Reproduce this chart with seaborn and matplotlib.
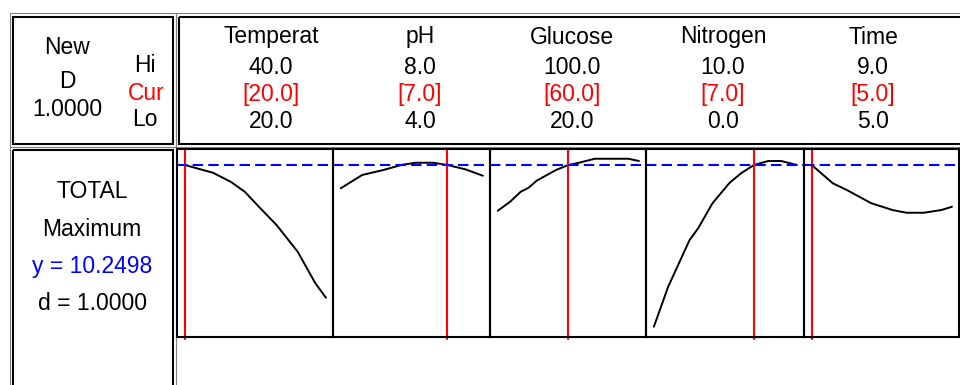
import matplotlib
matplotlib.use("Agg")
import matplotlib.pyplot as plt
from matplotlib.patches import Rectangle
import seaborn as sns

# factor settings shown in the header
factors = ["Temperat", "pH", "Glucose", "Nitrogen", "Time"]
hi_vals = [40.0, 8.0, 100.0, 10.0, 9.0]
cur_vals = [20.0, 7.0, 60.0, 7.0, 5.0]
lo_vals = [20.0, 4.0, 20.0, 0.0, 5.0]

y_opt = 10.2498
d_val = 1.0000

# response traces (factor value, predicted TOTAL)
temp_x = [20, 24, 26.5, 28.5, 30.5, 33, 36, 38.5, 40]
temp_y = [10.25, 9.94, 9.58, 9.18, 8.58, 7.85, 6.78, 5.52, 4.94]
ph_x = [4.0, 4.6, 5.2, 5.7, 6.1, 6.6, 7.0, 7.5, 8.0]
ph_y = [9.32, 9.85, 10.05, 10.25, 10.34, 10.34, 10.25, 10.08, 9.82]
glu_x = [20, 27, 33, 37.5, 42, 53, 60, 66, 75, 94, 100]
glu_y = [8.42, 8.78, 9.18, 9.34, 9.62, 10.05, 10.25, 10.34, 10.50, 10.50, 10.41]
nit_x = [0, 1.0, 2.5, 3.1, 4.1, 5.3, 6.1, 7.0, 8.0, 8.9, 10]
nit_y = [3.78, 5.38, 7.25, 7.72, 8.72, 9.54, 9.92, 10.25, 10.41, 10.41, 10.25]
time_x = [5.0, 5.6, 6.0, 6.7, 7.3, 7.7, 8.2, 8.7, 9.0]
time_y = [10.25, 9.52, 9.25, 8.72, 8.45, 8.34, 8.34, 8.45, 8.58]

traces = [(temp_x, temp_y), (ph_x, ph_y), (glu_x, glu_y), (nit_x, nit_y), (time_x, time_y)]

sns.set_style("white")
plt.rcParams["font.family"] = ["Liberation Sans", "DejaVu Sans"]
plt.rcParams["text.color"] = "black"

W, H = 960, 385
fig = plt.figure(figsize=(W / 100, H / 100), dpi=100)

# background layer in pixel units for the boxes and labels
bg = fig.add_axes([0, 0, 1, 1])
bg.set_xlim(0, W)
bg.set_ylim(H, 0)
bg.axis("off")


def box(x0, y0, x1, y1, color, lw):
    bg.add_patch(Rectangle((x0, y0), x1 - x0, y1 - y0, fill=False,
                           edgecolor=color, lw=lw, clip_on=False))


box(10, 13, 176, 147, "#808080", 0.8)
box(13, 17, 173, 144, "black", 1.5)
box(176, 13, 975, 147, "#808080", 0.8)
box(179, 17, 975, 144, "black", 1.5)
box(10, 147, 176, 400, "#808080", 0.8)
box(13, 150, 173, 400, "black", 1.5)

fs = 16.5
bg.text(67, 47, "New", ha="center", va="center", fontsize=fs)
bg.text(67, 81, "D", ha="center", va="center", fontsize=fs)
bg.text(67, 109, f"{d_val:.4f}", ha="center", va="center", fontsize=fs)
bg.text(145, 66, "Hi", ha="center", va="center", fontsize=fs)
bg.text(146, 93, "Cur", ha="center", va="center", fontsize=fs, color="red")
bg.text(145, 120, "Lo", ha="center", va="center", fontsize=fs)

bg.text(92, 192, "TOTAL", ha="center", va="center", fontsize=fs)
bg.text(92, 230, "Maximum", ha="center", va="center", fontsize=fs)
bg.text(92, 267, f"y = {y_opt:.4f}", ha="center", va="center", fontsize=fs, color="blue")
bg.text(92, 303, f"d = {d_val:.4f}", ha="center", va="center", fontsize=fs)

head_x = [271, 420, 572, 723, 873]
for hx, name, hi, cur, lo in zip(head_x, factors, hi_vals, cur_vals, lo_vals):
    bg.text(hx, 37, name, ha="center", va="center", fontsize=fs)
    bg.text(hx, 67, f"{hi:.1f}", ha="center", va="center", fontsize=fs)
    bg.text(hx, 95, f"[{cur:.1f}]", ha="center", va="center", fontsize=fs, color="red")
    bg.text(hx, 122, f"{lo:.1f}", ha="center", va="center", fontsize=fs)

# the five trace panels
edges = [177, 333, 490, 646, 804, 959]
top, bottom = 149, 337
ylim = (y_opt - 172 * 0.04, y_opt + 16 * 0.04)

for i, (xs, ys) in enumerate(traces):
    ax = fig.add_axes([edges[i] / W, (H - bottom) / H,
                       (edges[i + 1] - edges[i]) / W, (bottom - top) / H])
    span = hi_vals[i] - lo_vals[i]
    ax.set_xlim(lo_vals[i] - 0.055 * span, hi_vals[i] + 0.05 * span)
    ax.set_ylim(*ylim)
    sns.lineplot(x=xs, y=ys, ax=ax, color="black", lw=1.4, sort=False, estimator=None)
    ax.axvline(cur_vals[i], color="red", lw=1.5, ymin=-0.01, ymax=1.0, clip_on=False)
    ax.axhline(y_opt, color="blue", lw=1.5, ls=(0, (5, 2.5)))
    ax.set_xticks([])
    ax.set_yticks([])
    ax.set_xlabel("")
    ax.set_ylabel("")
    for sp in ax.spines.values():
        sp.set_color("black")
        sp.set_linewidth(1.5)
        sp.set_visible(True)
    ax.set_facecolor("none")

fig.savefig("out.png", dpi=100)
